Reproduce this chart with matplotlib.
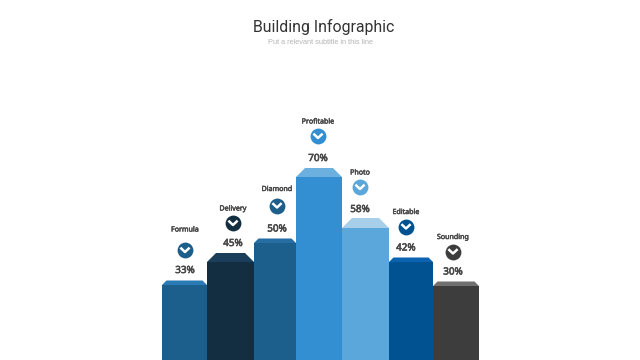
import matplotlib
matplotlib.use('Agg')
import matplotlib.pyplot as plt
import matplotlib.patheffects as pe
from matplotlib.patches import Polygon

# values
names = ['Formula', 'Delivery', 'Diamond', 'Profitable', 'Photo', 'Editable', 'Sounding']
percents = [33, 45, 50, 70, 58, 42, 30]
bar_heights = [75, 98, 117, 183, 132, 98, 74]
bar_widths = [45, 47, 42, 46, 47, 44, 46]
cap_heights = [4.5, 9, 4.5, 9, 10, 4.5, 4.5]

front_colors = ['#1c5f8c', '#132e40', '#1c5f8c', '#338fd2', '#5ba6da', '#005291', '#3d3d3d']
cap_colors = ['#2a7ab5', '#1b3f5a', '#256da3', '#6cb0e0', '#a8cfea', '#0a63b0', '#707070']

# label column centres and vertical gaps, top of cap -> percent -> icon -> name
label_x = [185, 233, 277, 318, 360, 406, 453]
pct_gap = [10, 9.5, 9.5, 9.5, 8.5, 9.5, 9.5]
icon_gap = [20.5, 20.5, 23.5, 22.5, 22.5, 21.5, 20.5]
name_gap = [20, 14, 16, 14, 14, 14, 14]

left_edge = 162
text_grey = '#4a4a4a'
# the installed Noto Sans has no heavy cut here, so thicken the glyphs
pct_bold = [pe.withStroke(linewidth=0.45, foreground=text_grey)]
name_bold = [pe.withStroke(linewidth=0.35, foreground=text_grey)]

fig = plt.figure(figsize=(6.4, 3.6), dpi=100)
ax = fig.add_axes([0, 0, 1, 1])
ax.set_xlim(0, 640)
ax.set_ylim(0, 360)
ax.axis('off')

# title
ax.text(324, 333, 'Building Infographic', ha='center', va='center', family='Roboto',
        fontsize=11.45, color='#333333')
ax.text(320, 317.2, 'Put a relevant subtitle in this line', ha='center', va='center',
        family='Liberation Sans', fontsize=5.3, color='#b5b5b5')

x = left_edge
for i, name in enumerate(names):
    w = bar_widths[i]
    h = bar_heights[i]
    cap = cap_heights[i]
    ax.bar(x, h, width=w, align='edge', color=front_colors[i], linewidth=0, zorder=2)
    # bevel on top of the bar
    inset = cap
    ax.add_patch(Polygon([(x, h), (x + inset, h + cap), (x + w - inset, h + cap), (x + w, h)],
                         closed=True, facecolor=cap_colors[i], edgecolor='none', zorder=1))

    y = h + cap + pct_gap[i]
    ax.text(label_x[i], y, f'{percents[i]}%', ha='center', va='center', family='Noto Sans',
            fontsize=7.1, color=text_grey, path_effects=pct_bold)

    y += icon_gap[i]
    ax.plot(label_x[i], y, 'o', markersize=11.4, color=front_colors[i], markeredgewidth=0, zorder=3)
    ax.plot([label_x[i] - 3.7, label_x[i], label_x[i] + 3.7], [y + 1.5, y - 2, y + 1.5],
            color='white', linewidth=1.8, zorder=4)

    y += name_gap[i]
    ax.text(label_x[i], y, name, ha='center', va='center', family='Noto Sans',
            fontsize=5.1, color=text_grey, path_effects=name_bold)
    x += w

fig.savefig('out.png', dpi=100)
